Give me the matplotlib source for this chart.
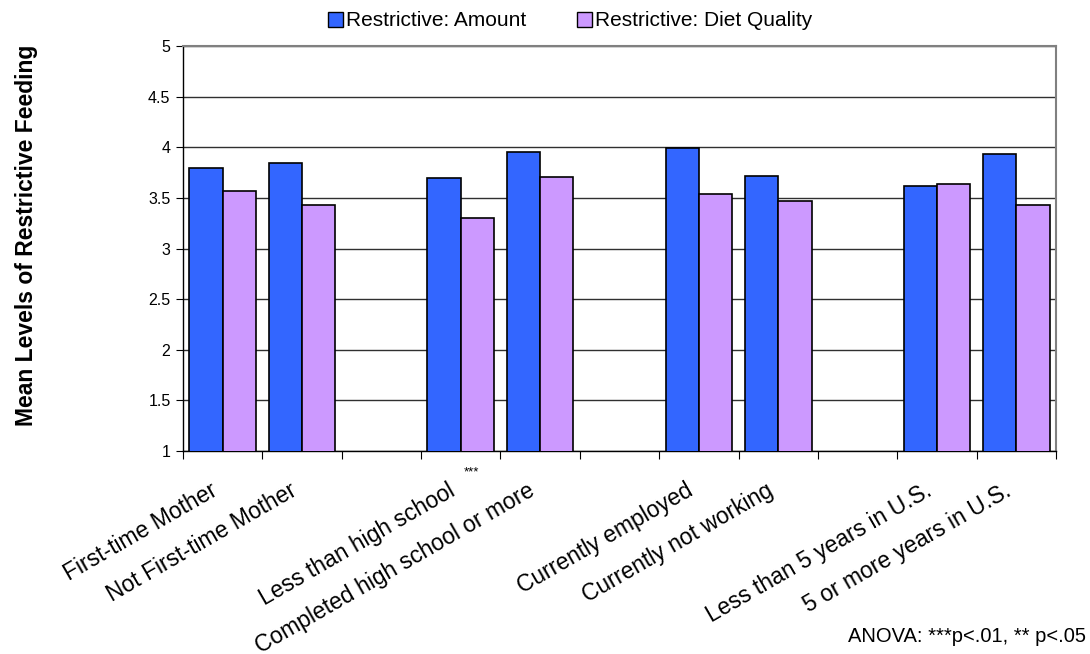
import matplotlib
matplotlib.use("Agg")
import matplotlib.pyplot as plt
from matplotlib.transforms import blended_transform_factory, ScaledTranslation
from matplotlib.patches import Patch
import numpy as np

plt.rcParams['font.family'] = ['Liberation Sans', 'DejaVu Sans']

categories = ["First-time Mother", "Not First-time Mother",
              "Less than high school", "Completed high school or more",
              "Currently employed", "Currently not working",
              "Less than 5 years in U.S.", "5 or more years in U.S."]
amount = [3.80, 3.84, 3.70, 3.95, 3.99, 3.72, 3.62, 3.93]
diet_quality = [3.57, 3.43, 3.30, 3.71, 3.54, 3.47, 3.64, 3.43]
series_names = ["Restrictive: Amount", "Restrictive: Diet Quality"]
yticks = [1, 1.5, 2, 2.5, 3, 3.5, 4, 4.5, 5]
ytick_labels = ["1", "1.5", "2", "2.5", "3", "3.5", "4", "4.5", "5"]

c_amount = "#3366FF"
c_diet = "#CC99FF"

fig = plt.figure(figsize=(10.9, 6.54), dpi=100)
ax = fig.add_axes([183/1090, 1 - 451/654, (1056-183)/1090, (451-46)/654])

# layout: pairs separated by an empty slot
pos = np.array([i + i // 2 for i in range(len(categories))], dtype=float)
w = 0.42
ax.bar(pos - w/2, amount, width=w, bottom=0, color=c_amount, edgecolor="black", linewidth=1.2, zorder=3)
ax.bar(pos + w/2, diet_quality, width=w, bottom=0, color=c_diet, edgecolor="black", linewidth=1.2, zorder=3)

ax.set_ylim(1, 5)
ax.set_xlim(-0.5, pos[-1] + 0.5)
ax.set_yticks(yticks)
ax.set_yticklabels(ytick_labels, fontsize=11.5)
ax.yaxis.grid(True, color="#303030", linewidth=1.0, zorder=0)
ax.set_axisbelow(True)

# x: major ticks at slot boundaries, labels at slot centers
bounds = np.arange(-0.5, pos[-1] + 1.0, 1.0)
ax.set_xticks(bounds)
ax.set_xticklabels([])
ax.set_xticks(pos, minor=True)
ax.set_xticklabels(categories, minor=True, fontsize=16.5, rotation=30, ha="right",
                   va="top", rotation_mode="anchor")
ax.tick_params(axis="x", which="minor", length=0, pad=20)
ax.tick_params(axis="x", which="major", length=6, direction="out", color="black")
ax.tick_params(axis="y", length=5, direction="out", color="black", pad=4)
shift = ScaledTranslation(-13/100, 0, fig.dpi_scale_trans)
for lbl in ax.get_xticklabels(minor=True):
    lbl.set_transform(lbl.get_transform() + shift)

for s in ["left", "bottom"]:
    ax.spines[s].set_color("black")
    ax.spines[s].set_linewidth(1.0)
for s in ["top", "right"]:
    ax.spines[s].set_color("#808080")
    ax.spines[s].set_linewidth(1.5)

ax.set_ylabel("Mean Levels of Restrictive Feeding", fontsize=16.5, fontweight="bold")
ax.yaxis.set_label_coords(-0.166, 0.533)

tr = blended_transform_factory(ax.transData, ax.transAxes)
ax.text(pos[2] + 0.14, -0.038, "***", transform=tr, fontsize=9.5, ha="center", va="top")

handles = [Patch(facecolor=c_amount, edgecolor="black", linewidth=1.0),
           Patch(facecolor=c_diet, edgecolor="black", linewidth=1.0)]
fig.legend(handles, series_names, loc="center", bbox_to_anchor=(0.523, 0.968), ncol=2,
           frameon=False, fontsize=15, handlelength=0.75, handleheight=0.75,
           handletextpad=0.15, columnspacing=2.4)

fig.text(0.996, 0.012, "ANOVA: ***p<.01, ** p<.05", ha="right", va="bottom", fontsize=14.5)

fig.savefig("out.png", dpi=100)
